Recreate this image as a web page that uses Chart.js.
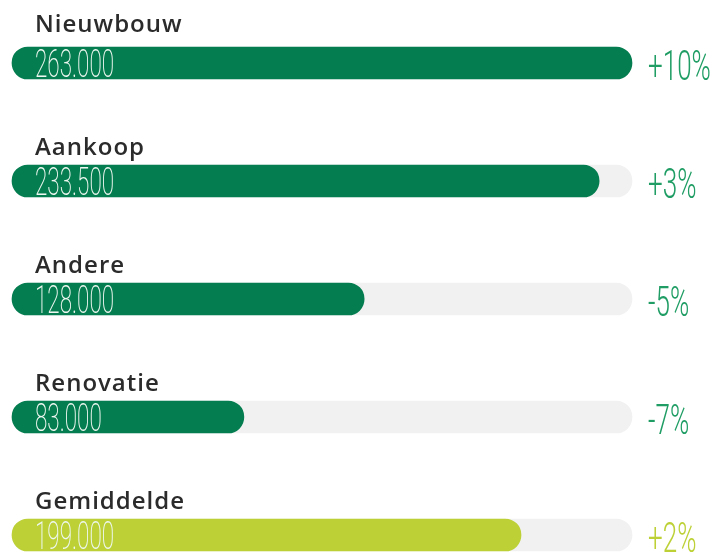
<!DOCTYPE html>
<html>
<head>
<meta charset="utf-8">
<script src="https://cdn.jsdelivr.net/npm/chart.js@4"></script>
<style>
    html, body { margin: 0; padding: 0; background: #fff; }
    #wrap { width: 719px; height: 556px; position: relative; }
</style>
</head>
<body>
<div id="wrap"><canvas id="barsChart"></canvas></div>
<script>
// Categories and values
const categories = ['Nieuwbouw', 'Aankoop', 'Andere', 'Renovatie', 'Gemiddelde'];
const amounts = ['263.000', '233.500', '128.000', '83.000', '199.000'];
const changes = ['+10%', '+3%', '-5%', '-7%', '+2%'];
// bar length as share of the grey track (the graphic is not drawn to scale)
const fillPercent = [100, 94.7, 56.8, 37.4, 82.1];
const trackPercent = [100, 100, 100, 100, 100];

const GREEN = '#047d50';
const LIME = '#bdd137';
const barColors = categories.map((c, i) => i === categories.length - 1 ? LIME : GREEN);
const textColors = categories.map((c, i) => i === categories.length - 1 ? LIME : '#1f9d64');

// Draw the category names, amounts and changes next to each bar
const labelPlugin = {
    id: 'barLabels',
    afterDatasetsDraw(chart) {
        const ctx = chart.ctx;
        const yScale = chart.scales.y;
        const area = chart.chartArea;

        categories.forEach((name, i) => {
            const cy = yScale.getPixelForValue(i);

            // category name above the bar
            ctx.save();
            ctx.fillStyle = '#2b2b2b';
            ctx.font = '600 24px "Open Sans"';
            ctx.textBaseline = 'alphabetic';
            ctx.letterSpacing = '1px';
            ctx.fillText(name, area.left + 23, cy - (i === 0 ? 31 : 26));
            ctx.restore();

            // amount inside the bar, condensed thin digits
            ctx.save();
            ctx.fillStyle = '#eef7f1';
            ctx.font = '200 38px Roboto';
            ctx.textBaseline = 'alphabetic';
            ctx.translate(area.left + 23, cy + 14);
            ctx.scale(0.59, 1);
            ctx.fillText(amounts[i], 0, 0);
            ctx.restore();

            // change at the right of the track
            ctx.save();
            ctx.fillStyle = textColors[i];
            ctx.font = '300 42px Roboto';
            ctx.textBaseline = 'alphabetic';
            ctx.translate(area.right + 16, cy + 17);
            ctx.scale(0.62, 1);
            ctx.fillText(changes[i], 0, 0);
            ctx.restore();
        });
    }
};

const chart = new Chart(document.getElementById('barsChart'), {
    type: 'bar',
    data: {
        labels: categories,
        datasets: [
            {
                data: fillPercent,
                backgroundColor: barColors,
                borderRadius: 16,
                borderSkipped: false,
                barThickness: 32,
                grouped: false,
                clip: false,
                order: 0
            },
            {
                data: trackPercent,
                backgroundColor: '#f1f1f1',
                borderRadius: 16,
                borderSkipped: false,
                barThickness: 32,
                grouped: false,
                clip: false,
                order: 1
            }
        ]
    },
    options: {
        indexAxis: 'y',
        responsive: true,
        maintainAspectRatio: false,
        animation: false,
        layout: {
            padding: { left: 12, right: 87, top: 63, bottom: 21 }
        },
        plugins: {
            legend: { display: false },
            tooltip: { enabled: false }
        },
        scales: {
            x: {
                display: false,
                min: 0,
                max: 100
            },
            y: {
                display: false,
                offset: false
            }
        }
    },
    plugins: [labelPlugin]
});
</script>
</body>
</html>
